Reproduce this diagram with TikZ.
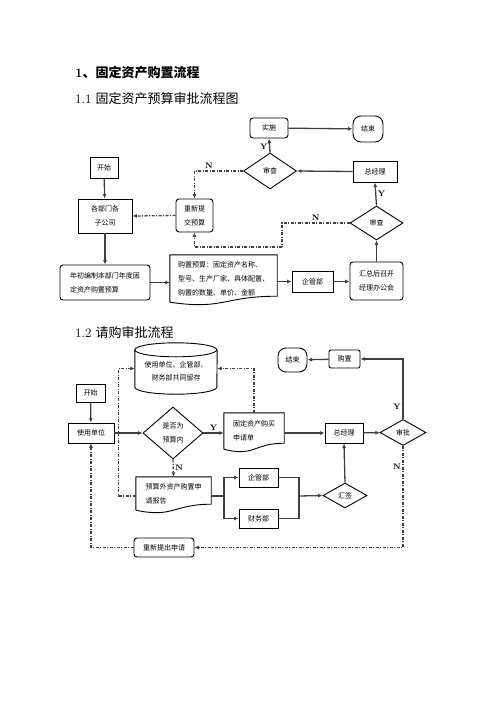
\documentclass[tikz,border=0pt]{standalone}
\usepackage{fontspec}
\newfontfamily\cjk{Noto Sans CJK SC}
\usetikzlibrary{calc,arrows.meta,shapes.geometric}
\tikzset{
  box/.style={draw=black, line width=0.9pt, inner sep=1pt, font=\cjk\fontsize{7}{14}\selectfont, align=center},
  rbox/.style={box, rounded corners=3pt},
  stadium/.style={box, rounded corners=8pt},
  decide/.style={box, diamond, inner sep=0pt},
  docbox/.style={inner sep=3pt, font=\cjk\fontsize{7}{14}\selectfont, align=left},
  flow/.style={draw=black!75, line width=1.3pt, -{Latex[length=4.5pt,width=4pt]}},
  back/.style={flow, dash pattern=on 3pt off 1.5pt on 1pt off 1.5pt},
  lab/.style={font=\bfseries\fontsize{8}{8}\selectfont, inner sep=1.5pt},
  heading/.style={anchor=west, inner sep=0pt, font=\fontsize{13}{13}\selectfont}
}
% document shape with wavy bottom
\def\docwave(#1){\draw[draw=black, line width=0.9pt] (#1.south west) -- (#1.north west) -- (#1.north east) -- ([yshift=6pt]#1.south east) .. controls ([yshift=6pt]#1.south) and ([yshift=-8pt]#1.south) .. (#1.south west);}
\begin{document}
\begin{tikzpicture}[x=1pt,y=-1pt]
		\useasboundingbox (0,0) rectangle (496,702);
		%%%%% HEADINGS %%%%%
		\node[heading] (title) at (75,73) {\bfseries 1\cjk、固定资产购置流程};
		\node[heading] (sub1) at (75,99) {1.1 {\cjk 固定资产预算审批流程图}};
		\node[heading] (sub2) at (75,333) {1.2 {\cjk 请购审批流程}};
		
		%%%%% 1.1 %%%%%
		\node[rbox, minimum width=38pt, minimum height=20pt] (shishi) at (269,128) {实施};
		\node[stadium, minimum width=30pt, minimum height=26pt] (end1) at (368,129) {结束};
		\node[decide, minimum width=53pt, minimum height=36pt, aspect=1.5] (check1) at (270,171) {审查};
		\node[box, minimum width=44pt, minimum height=21pt] (gm1) at (375,171.5) {总经理};
		\node[box, minimum width=28pt, minimum height=21pt] (start1) at (104,167.5) {开始};
		\node[box, minimum width=54pt, minimum height=34pt] (dept) at (105,216) {各部门各\\子公司};
		\node[rbox, minimum width=37pt, minimum height=33pt] (resub) at (194.5,215.5) {重新提\\交预算};
		\node[rbox, minimum width=90pt, minimum height=35pt, align=left] (plan) at (105,282.5) {年初编制本部门年度固\\定资产购置预算};
		\node[docbox, minimum width=107pt, minimum height=47pt] (budget) at (223.5,278.5) {购置预算：固定资产名称、\\型号、生产厂家、具体配置、\\购置的数量、单价、金额};
		\docwave(budget)
		\node[box, minimum width=41pt, minimum height=21pt] (qgb1) at (312.5,281.5) {企管部};
		\node[rbox, minimum width=53pt, minimum height=38pt] (meet) at (376.5,281) {汇总后召开\\经理办公会};
		\node[decide, minimum width=53pt, minimum height=34pt, aspect=1.5] (check2) at (376.5,223) {审查};
		\coordinate (n2) at (282,247);
		
		\draw[flow] (shishi) -- (end1);
		\draw[flow] (check1.north) -- (shishi.south) node[lab, left, pos=0.4] {Y};
		\draw[flow] (gm1.west) -- (check1.east);
		\draw[back] (check1.west) -| (resub.north) node[lab, above, pos=0.35] {N};
		\draw[back] (resub.west) -- (dept.east);
		\draw[flow] (start1) -- (dept);
		\draw[flow] (dept) -- (plan);
		\draw[flow] (plan.east) -- (plan.east -| budget.west);
		\draw[flow] (budget.east |- qgb1.west) -- (qgb1.west);
		\draw[flow] (qgb1.east) -- (qgb1.east -| meet.west);
		\draw[flow] (meet) -- (check2);
		\draw[flow] (check2.north) -- (gm1.south) node[lab, right, midway] {Y};
		\draw[back, -] (check2.west) -| (n2) node[lab, above, pos=0.25] {N};
		\draw[back] (n2) -| (resub.south);
		
		%%%%% 1.2 %%%%%
		\node[minimum width=82pt, minimum height=51pt, inner sep=0pt, font=\cjk\fontsize{7}{13}\selectfont, align=center] (store) at (176,368.5) {\\[-2pt]使用单位、企管部、\\财务部共同留存};
		\draw[line width=0.9pt] ([yshift=-7pt]store.north west) arc[start angle=180, end angle=-180, x radius=41pt, y radius=7pt];
		\draw[line width=0.9pt] ([yshift=-7pt]store.north west) -- ([yshift=7pt]store.south west) arc[start angle=180, end angle=360, x radius=41pt, y radius=7pt] -- ([yshift=-7pt]store.north east);
		\node[stadium, minimum width=29pt, minimum height=24pt] (end2) at (292.5,360) {结束};
		\node[rbox, rounded corners=2pt, minimum width=31pt, minimum height=18pt] (buy) at (344.5,359) {购置};
		\node[box, minimum width=29pt, minimum height=18pt] (start2) at (90.5,393) {开始};
		\node[box, minimum width=46pt, minimum height=20pt] (unit) at (91,433) {使用单位};
		\node[decide, minimum width=60pt, minimum height=52pt, aspect=1.15] (inbud) at (173,433) {是否为\\预算内};
		\node[docbox, minimum width=60pt, minimum height=36pt] (apply) at (254,431) {固定资产购买\\申请单};
		\docwave(apply)
		\node[box, minimum width=38pt, minimum height=20pt] (gm2) at (344,433) {总经理};
		\node[decide, minimum width=46pt, minimum height=26pt, aspect=1.8] (approve) at (403,432.5) {审批};
		\node[rbox, minimum width=60pt, minimum height=19pt] (redo) at (164,547.5) {重新提出申请};
		\node[docbox, minimum width=75pt, minimum height=33pt] (extra) at (173.5,493.5) {预算外资产购置申\\请报告};
		\docwave(extra)
		\node[box, minimum width=39pt, minimum height=19pt] (qgb2) at (258.5,477.5) {企管部};
		\node[box, minimum width=39pt, minimum height=19pt] (fin) at (258.5,518.5) {财务部};
		\node[decide, minimum width=44pt, minimum height=25pt, aspect=1.76] (sign) at (345,495.5) {汇签};
		\coordinate (fork) at (224,496);
		\coordinate (join) at (299,496);
		
		\draw[flow] (start2) -- (unit);
		\draw[flow] (unit) -- (inbud);
		\draw[flow] (inbud.east) -- (inbud.east -| apply.west) node[lab, above, midway] {Y};
		\draw[flow] (apply.east |- gm2.west) -- (gm2.west);
		\draw[flow] (gm2) -- (approve);
		\draw[flow] (approve.north) |- (buy.east) node[lab, left, pos=0.1] {Y};
		\draw[flow] (buy) -- (end2);
		\draw[back] (approve.south) |- (redo.east) node[lab, left, pos=0.1] {N};
		\draw[back] (redo.west) -| (unit.south);
		\draw[back] (inbud.south) -- (extra.north) node[lab, right, midway] {N};
		\draw[back] (extra.west |- fork) -- ++(-17,0) |- (store.west);
		\draw[back] (apply.north) |- (store.east);
		\draw[flow, -] (extra.east |- fork) -- (fork);
		\draw[flow] (fork) |- (qgb2.west);
		\draw[flow] (fork) |- (fin.west);
		\draw[flow, -] (qgb2.east) -| (join);
		\draw[flow, -] (fin.east) -| (join);
		\draw[flow] (join) -- (sign.west);
		\draw[flow] (sign.north) -- (gm2.south);
\end{tikzpicture}
\end{document}
